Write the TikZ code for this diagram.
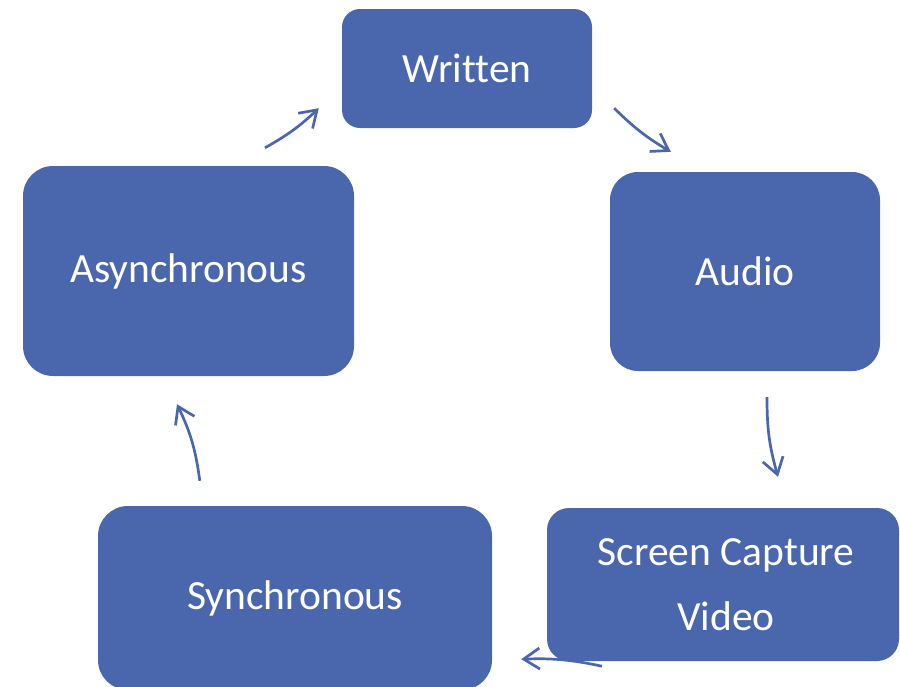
\documentclass[tikz,border=0pt]{standalone}
\usepackage{fontspec}
\setmainfont{Carlito}[Ligatures={NoCommon,NoRequired,NoContextual},Contextuals=NoAlternate]
\usetikzlibrary{arrows.meta}
\definecolor{cycleblue}{RGB}{74,103,174}

\begin{document}
\begin{tikzpicture}[x=1pt,y=-1pt,
  box/.style={fill=cycleblue,text=white,inner sep=0pt,align=center,
    font=\fontsize{41.5}{65}\selectfont},
  cyc/.style={draw=cycleblue,line width=2.7pt,
    -{Straight Barb[length=16pt,width=21pt,line width=2.7pt]}}]
\useasboundingbox (0,0) rectangle (900,686);

\node[box,minimum width=250pt,minimum height=119pt,rounded corners=18pt] (written) at (467,68.5) {Written};
\node[box,minimum width=270pt,minimum height=199pt,rounded corners=28pt] (audio) at (745,271.5) {Audio};
\node[box,minimum width=352pt,minimum height=153pt,rounded corners=22pt] (screen) at (723,584.5) {\hspace*{6pt}Screen Capture\\\hspace*{6pt}Video};
\node[box,minimum width=394pt,minimum height=184pt,rounded corners=30pt] (sync) at (295,598) {Synchronous};
\node[box,minimum width=331pt,minimum height=210pt,rounded corners=30pt] (async) at (188.5,271) {Asynchronous};

\draw[cyc] ([shift={(76.5,-18)}]async.north) to[bend right=7] ([shift={(-23,-20)}]written.south west);
\draw[cyc] ([shift={(22,-20)}]written.south east) to[bend right=7] ([shift={(61,-20)}]audio.north west);
\draw[cyc] ([shift={(22,26)}]audio.south) to[bend right=8] ([shift={(55,-31)}]screen.north);
\draw[cyc] ([shift={(-121,5)}]screen.south) to[bend right=7] ([shift={(29,-31)}]sync.south east);
\draw[cyc] ([shift={(102,-25)}]sync.north west) to[bend right=9] ([shift={(-11.5,28)}]async.south);
\end{tikzpicture}
\end{document}
